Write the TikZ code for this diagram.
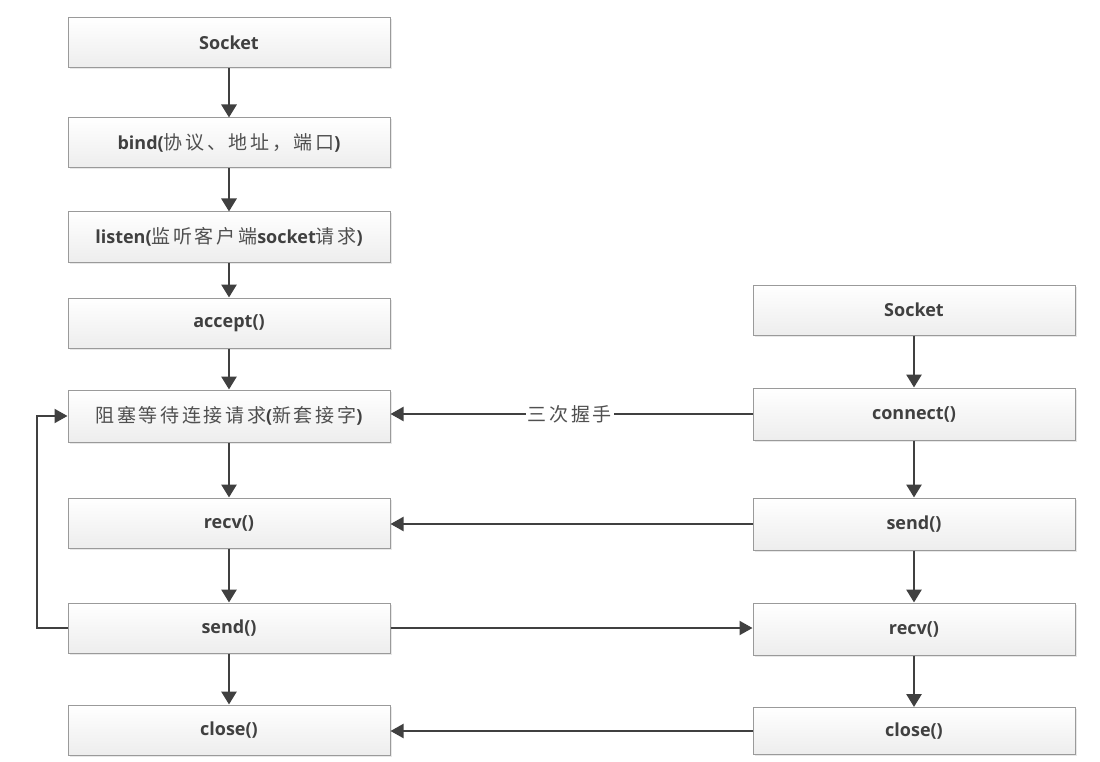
\documentclass[tikz,border=0pt]{standalone}
\usepackage{fontspec}
\setmainfont{Open Sans}
\newfontfamily\cjkfont{Noto Sans CJK SC}[LetterSpace=14]
\usetikzlibrary{arrows.meta,shadows}
\definecolor{ink}{HTML}{404040}
\definecolor{edge}{HTML}{9A9A9A}
\definecolor{zhcol}{HTML}{505050}
\newcommand\zhtext[1]{{\cjkfont\mdseries\fontsize{19}{21}\selectfont\color{zhcol}#1}}
\tikzset{
  box/.style={draw=edge, line width=1pt, top color=white, bottom color=gray!14,
    minimum width=322pt, minimum height=50pt, inner sep=0pt, text=ink,
    font=\fontsize{18}{20}\selectfont\bfseries,
    drop shadow={shadow xshift=1.5pt, shadow yshift=-1.5pt, fill=gray!35, opacity=0.5}},
  flow/.style={draw=ink, line width=2.8pt, -{Triangle[length=13pt,width=15pt]}},
  hflow/.style={draw=ink, line width=2pt, -{Triangle[length=13pt,width=14pt]}},
}
\begin{document}
\begin{tikzpicture}[x=1pt,y=-1pt]
\useasboundingbox[fill=white] (0,0) rectangle (1100,762);
% left column
\node[box] (ls) at (229,43) {Socket};
\node[box] (lb) at (229,143) {bind(\zhtext{协议、地址，端口})};
\node[box] (ll) at (229,237) {listen(\zhtext{监听客户端}socket\zhtext{请求})};
\node[box] (la) at (229,323) {accept()};
\node[box, minimum height=52pt] (lw) at (229,416) {\zhtext{阻塞等待连接请求}(\zhtext{新套接字})};
\node[box] (lr) at (229,523) {recv()};
\node[box] (lsd) at (229,628) {send()};
\node[box] (lc) at (229,730) {close()};
% right column
\node[box] (rs) at (914,310) {Socket};
\node[box, minimum height=52pt] (rc) at (914,414) {connect()};
\node[box, minimum height=52pt] (rsd) at (914,524) {send()};
\node[box, minimum height=52pt] (rr) at (914,629) {recv()};
\node[box, minimum height=47pt] (rcl) at (914,731) {close()};
% vertical flows
\draw[flow] (ls) -- (lb);
\draw[flow] (lb) -- (ll);
\draw[flow] (ll) -- (la);
\draw[flow] (la) -- (lw);
\draw[flow] (lw) -- (lr);
\draw[flow] (lr) -- (lsd);
\draw[flow] (lsd) -- (lc);
\draw[flow] (rs) -- (rc);
\draw[flow] (rc) -- (rsd);
\draw[flow] (rsd) -- (rr);
\draw[flow] (rr) -- (rcl);
% loop
\coordinate (lp1) at (37,628);
\coordinate (lp2) at (37,416);
\draw[hflow] (lsd.west) -- (lp1) -- (lp2) -- (lw.west);
% horizontal
\draw[hflow] (rc.west) -- node[fill=white, inner sep=2pt, pos=0.505] (hs) {\zhtext{三次握手}} (lw.east |- rc.west);
\draw[hflow] (rsd.west) -- (lr.east |- rsd.west);
\draw[hflow] (lsd.east) -- (rr.west |- lsd.east);
\draw[hflow] (rcl.west) -- (lc.east |- rcl.west);
\end{tikzpicture}
\end{document}
